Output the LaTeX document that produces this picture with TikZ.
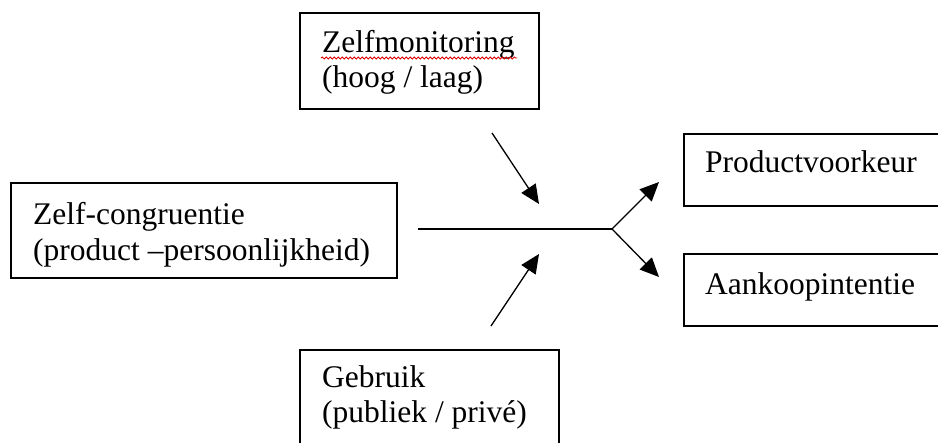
\documentclass[tikz,border=0pt]{standalone}
\usepackage{fontspec}
\setmainfont{Liberation Serif}
\usetikzlibrary{arrows.meta,decorations.pathmorphing}
\tikzset{
  box/.style={draw=black, line width=1.6pt, rectangle, anchor=north west, inner sep=0pt},
  lbl/.style={anchor=base west, inner sep=0pt, font=\fontsize{31.5}{36}\selectfont},
  conn/.style={draw=black, line width=1.3pt},
  arr/.style={conn, -{Triangle[length=19pt,width=17pt]}},
  spell/.style={draw=red!85!black, line width=0.8pt, decorate,
    decoration={snake, amplitude=1.1pt, segment length=4pt}}
}
\begin{document}
\begin{tikzpicture}[x=1pt,y=-1pt]
\path[use as bounding box, fill=white] (0,0) rectangle (938,443);
\clip (0,0) rectangle (938,443);
% boxes
\node[box, minimum width=239pt, minimum height=96pt] (mon) at (299,12) {};
\node[box, minimum width=386pt, minimum height=95pt] (cong) at (10,182) {};
\node[box, minimum width=280pt, minimum height=72pt] (pref) at (683,133) {};
\node[box, minimum width=280pt, minimum height=72pt] (intent) at (683,253) {};
\node[box, minimum width=259pt, minimum height=120pt] (use) at (299,349) {};
% texts
\node[lbl] (mon1) at (322,53) {Zelfmonitoring};
\node[lbl] (mon2) at (322,88) {(hoog / laag)};
\node[lbl] (cong1) at (33,225) {Zelf-congruentie};
\node[lbl] (cong2) at (33,261) {(product –persoonlijkheid)};
\node[lbl] (pref1) at (705,173) {Productvoorkeur};
\node[lbl] (int1) at (705,295) {Aankoopintentie};
\node[lbl] (use1) at (322,388) {Gebruik};
\node[lbl] (use2) at (322,423) {(publiek / privé)};
% spell-check squiggle
\coordinate (sq1) at (321,58);
\coordinate (sq2) at (517,58);
\draw[spell] (sq1) -- (sq2);
% connectors
\coordinate (hstart) at (418,229);
\coordinate (junction) at (612,229);
\coordinate (tipP) at (659,182);
\coordinate (tipA) at (659,277);
\coordinate (monstart) at (492,133);
\coordinate (montip) at (539,204);
\coordinate (usestart) at (491,326);
\coordinate (usetip) at (539,254);
\draw[conn] (hstart) -- (junction);
\draw[arr] (junction) -- (tipP);
\draw[arr] (junction) -- (tipA);
\draw[arr] (monstart) -- (montip);
\draw[arr] (usestart) -- (usetip);
\end{tikzpicture}
\end{document}
